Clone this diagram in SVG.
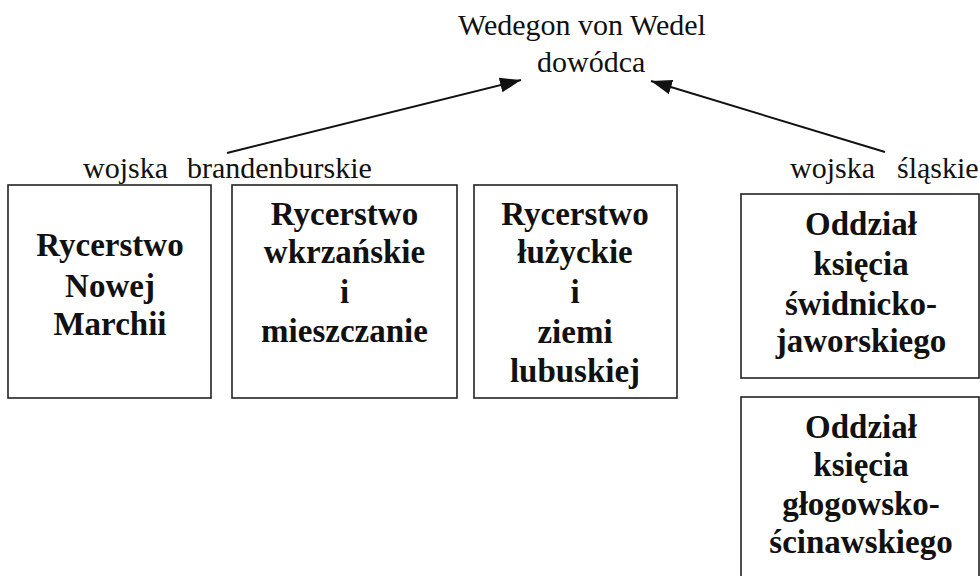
<svg xmlns="http://www.w3.org/2000/svg" width="980" height="576" viewBox="0 0 980 576">
  <style>
    .lbl { font-family: 'Liberation Serif', 'Tinos', 'Times New Roman', 'DejaVu Serif', serif; font-size: 30px; fill: #111; }
    .box { fill: #fff; stroke: #222; stroke-width: 1.6; }
    .bt { font-family: 'Liberation Serif', 'Tinos', 'Times New Roman', 'DejaVu Serif', serif; font-size: 33px; font-weight: bold; fill: #111; text-anchor: middle; }
    .conn { stroke: #111; stroke-width: 2; fill: none; marker-end: url(#arrow); }
  </style>
  <defs>
    <marker id="arrow" markerUnits="userSpaceOnUse" markerWidth="22" markerHeight="16" refX="21" refY="8" orient="auto">
      <path d="M0,0.5 L21,8 L0,15.5 z" fill="#111"/>
    </marker>
  </defs>
  <rect width="980" height="576" fill="#fff"/>

  <!-- commander -->
  <g id="commander">
    <text class="lbl" x="458" y="35">Wedegon von Wedel</text>
    <text class="lbl" x="537" y="72">dowódca</text>
  </g>

  <!-- group labels -->
  <g id="label-brandenburg">
    <text class="lbl" x="83" y="178">wojska</text>
    <text class="lbl" x="187" y="178">brandenburskie</text>
  </g>
  <g id="label-silesia">
    <text class="lbl" x="790" y="178">wojska</text>
    <text class="lbl" x="897" y="178">śląskie</text>
  </g>

  <!-- connectors -->
  <g id="connectors">
    <line class="conn" x1="227" y1="153" x2="521" y2="80"/>
    <line class="conn" x1="885" y1="152" x2="651" y2="81"/>
  </g>

  <g id="node-nowa-marchia">
    <rect class="box" x="8" y="185" width="203" height="213"/>
    <text class="bt" x="110" y="256">Rycerstwo</text>
    <text class="bt" x="110" y="297">Nowej</text>
    <text class="bt" x="110" y="335">Marchii</text>
  </g>

  <g id="node-wkrzanskie">
    <rect class="box" x="232" y="185" width="225" height="213"/>
    <text class="bt" x="344.5" y="225">Rycerstwo</text>
    <text class="bt" x="344.5" y="263">wkrzańskie</text>
    <text class="bt" x="344.5" y="303">i</text>
    <text class="bt" x="344.5" y="342">mieszczanie</text>
  </g>

  <g id="node-luzyckie">
    <rect class="box" x="474" y="185" width="203" height="213"/>
    <text class="bt" x="575" y="225">Rycerstwo</text>
    <text class="bt" x="575" y="263">łużyckie</text>
    <text class="bt" x="575" y="303">i</text>
    <text class="bt" x="575" y="343">ziemi</text>
    <text class="bt" x="575" y="382">lubuskiej</text>
  </g>

  <g id="node-swidnica">
    <rect class="box" x="741" y="194" width="238" height="184"/>
    <text class="bt" x="861" y="235">Oddział</text>
    <text class="bt" x="861" y="275">księcia</text>
    <text class="bt" x="861" y="315">świdnicko-</text>
    <text class="bt" x="861" y="352">jaworskiego</text>
  </g>

  <g id="node-glogow">
    <rect class="box" x="741" y="397" width="238" height="200"/>
    <text class="bt" x="861" y="438">Oddział</text>
    <text class="bt" x="861" y="476">księcia</text>
    <text class="bt" x="861" y="515">głogowsko-</text>
    <text class="bt" x="861" y="553">ścinawskiego</text>
  </g>
</svg>
